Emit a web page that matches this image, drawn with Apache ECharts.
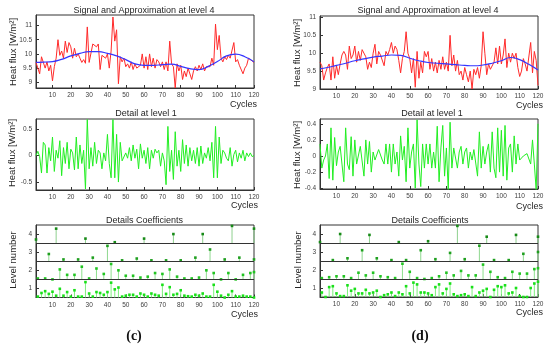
<!DOCTYPE html>
<html><head><meta charset="utf-8">
<script src="https://cdn.jsdelivr.net/npm/echarts@6/dist/echarts.min.js"></script>
<style>html,body{margin:0;padding:0;background:#fff}#c{width:550px;height:344px}</style>
</head><body><div id="c"></div>
<script>
// ---------- data ----------
const cycleTicks = [10,20,30,40,50,60,70,80,90,100,110,120];

// (c) signal and approximation
const signalC = [9.7,9.72,9.3,9.9,9.97,9.5,9.72,9.4,9.6,9.05,9.55,9.85,10.5,9.95,10.1,9.85,10.45,10.05,10.4,10.25,
9.85,10.2,9.9,10.0,9.85,9.7,9.8,9.67,10.95,9.7,9.65,10.35,10.3,10.25,10.35,9.45,9.95,10.0,9.85,10.0,
9.5,10.1,11.3,10.45,10.85,8.95,9.9,9.72,9.85,9.55,9.65,9.5,9.72,9.45,9.65,9.5,9.55,9.6,10.0,9.5,
9.9,9.45,10.0,9.55,9.85,9.5,9.8,9.72,9.55,9.72,9.45,9.72,9.4,10.45,9.65,9.55,8.8,9.65,9.4,9.6,
9.1,9.4,9.2,9.5,9.45,9.1,9.4,9.55,9.4,9.6,9.45,9.65,9.4,9.55,9.6,9.55,9.85,9.6,11.05,10.15,
10.65,9.85,9.72,9.9,9.8,9.95,9.85,9.8,10.4,9.72,9.8,9.6,9.65,9.3,9.5,9.6,9.85,9.8,9.75,9.7];
const approxX = [1,5,10,15,20,25,30,35,40,45,50,55,60,65,70,75,80,85,90,95,100,105,110,115,120];
const approxC = [9.7,9.71,9.73,9.81,9.93,10.02,10.08,10.08,10.02,9.93,9.8,9.65,9.6,9.6,9.62,9.64,9.56,9.48,9.45,9.56,9.73,9.93,9.99,9.9,9.72];

// (d) signal and approximation
const signalD = [9.75,9.65,9.25,9.45,9.6,9.7,9.25,9.9,9.3,9.65,9.4,9.7,9.95,10.05,9.95,9.55,10.2,9.85,9.95,10.2,
9.75,10.05,9.8,10.1,10.15,9.9,9.55,9.75,9.6,10.0,10.25,9.7,10.05,9.95,10.0,9.65,10.05,9.95,10.1,10.3,
10.0,10.2,10.1,9.8,9.45,9.85,10.05,10.6,10.0,9.85,9.45,9.85,9.05,10.05,9.3,9.75,9.45,10.05,9.9,10.05,
9.55,9.85,9.5,9.75,9.45,9.8,9.55,9.9,9.55,9.75,9.5,10.5,9.65,9.95,9.5,9.8,9.4,9.5,9.25,9.6,
9.4,9.2,9.5,9.0,9.55,9.4,9.6,9.3,9.65,10.6,10.0,9.4,9.7,9.55,9.6,9.75,10.15,9.7,10.2,9.7,
9.95,10.4,9.6,10.0,9.75,10.0,9.85,10.0,9.6,9.35,9.5,9.85,9.7,9.5,9.55,10.3,9.45,10.05,9.8,9.1];
const approxD = [9.56,9.6,9.66,9.72,9.79,9.84,9.89,9.92,9.95,9.94,9.86,9.79,9.74,9.72,9.7,9.68,9.66,9.65,9.67,9.72,9.79,9.88,9.82,9.69,9.53];

// detail at level 1
const detailC = [0.0,0.08,-0.02,-0.33,0.25,0.2,-0.33,0.15,-0.1,0.35,-0.3,0.1,-0.05,0.28,-0.38,0.15,-0.15,0.25,-0.25,0.12,
0.05,-0.27,0.35,-0.25,0.2,-0.15,0.1,-0.63,0.68,-0.25,0.15,-0.2,0.25,-0.15,0.1,0.05,-0.25,0.05,-0.1,0.4,
-0.15,-0.42,0.68,-0.42,0.4,-0.5,0.25,-0.1,-0.08,0.05,-0.05,0.15,-0.1,0.2,-0.05,0.12,-0.25,0.22,-0.05,0.1,
-0.15,0.15,-0.25,0.1,-0.05,0.12,0.05,0.1,-0.2,0.05,-0.1,-0.55,0.55,-0.3,0.1,-0.45,0.45,-0.2,0.1,-0.3,
0.3,-0.15,0.2,-0.2,0.15,-0.1,0.1,-0.15,0.15,-0.2,0.18,-0.15,0.05,-0.05,0.15,-0.1,0.25,-0.42,0.55,-0.42,
0.35,-0.15,0.1,0.05,-0.05,-0.1,0.15,-0.2,0.02,0.1,-0.12,0.05,-0.05,0.1,-0.1,0.05,-0.02,0.05,-0.02,0.0];
const detailD = [0.15,-0.15,-0.05,0.0,0.15,-0.28,0.35,-0.3,0.23,-0.12,0.05,0.12,-0.1,-0.32,0.35,-0.1,-0.17,0.24,-0.25,0.2,
-0.1,-0.12,0.12,0.12,-0.25,0.2,-0.1,0.18,-0.2,0.05,-0.05,-0.03,0.08,0.1,-0.05,-0.1,0.15,-0.1,0.15,-0.2,
0.15,-0.1,0.05,-0.25,0.25,-0.05,0.12,-0.32,0.35,-0.15,0.05,0.15,-0.4,0.45,-0.1,-0.38,0.15,-0.15,0.15,-0.1,
0.15,-0.15,0.05,-0.15,0.37,-0.32,0.1,0.38,-0.25,0.1,-0.42,0.42,-0.15,0.1,0.08,-0.15,0.05,0.12,-0.1,0.05,
0.1,-0.15,0.05,-0.05,0.08,0.1,-0.25,0.3,-0.15,0.12,-0.1,0.05,0.15,-0.2,0.3,-0.15,-0.27,0.35,-0.2,0.32,
-0.25,0.38,-0.3,0.1,0.15,-0.2,0.25,-0.1,0.15,-0.05,-0.05,0.0,0.02,0.03,0.02,-0.1,0.2,-0.1,-0.42,0.4];

// details coefficients: stem positions (cycles) per level
const stemX1 = [2,4,6,8,10,12,14,16,18,20,22,24,26,28,30,32,34,36,38,40,42,44,46,48,50,52,54,56,58,60,
62,64,66,68,70,72,74,76,78,80,82,84,86,88,90,92,94,96,98,100,102,104,106,108,110,112,114,116,118,120];
const stemX2 = [2,6,10,14,18,22,26,30,34,38,42,46,50,54,58,62,66,70,74,78,82,86,90,94,98,102,106,110,114,118,120];
const stemX3 = [8,16,24,32,40,48,56,64,72,80,88,96,104,112,120];
const stemX4 = [1,12,28,44,60,76,92,108,120];
// (c) plotted levels
const cL1 = [0.55,0.75,0.85,0.7,0.82,0.6,0.98,0.6,0.8,0.55,0.9,0.55,0.55,1.35,0.72,0.55,0.8,0.75,0.65,0.8,
1.32,0.95,1.05,0.55,0.6,0.65,0.65,0.55,0.72,0.65,0.55,0.72,0.65,0.6,1.2,0.7,1.07,0.65,0.7,0.9,
0.6,0.57,0.55,0.65,0.6,0.72,0.55,0.55,1.2,0.82,0.6,0.5,0.65,0.85,0.55,0.55,0.6,0.55,0.55,0.5];
const cL2 = [1.55,1.55,1.5,2.05,1.75,1.75,2.2,1.55,2.1,1.8,2.35,2.0,1.7,1.7,1.6,1.65,1.85,1.8,2.05,1.65,
1.55,1.55,1.6,2.0,1.85,1.5,1.85,1.5,1.75,1.85,1.9];
const cL3 = [2.9,2.6,2.6,2.7,3.35,2.55,2.65,2.55,2.55,2.55,2.7,3.15,2.6,2.7,2.6];
const cL4 = [3.7,4.3,3.75,3.55,3.75,4.0,4.0,4.45,4.3];
// (d) plotted levels
const dL1 = [0.75,0.5,1.05,1.1,0.7,0.55,0.55,1.15,0.85,0.95,0.7,0.7,0.9,0.7,0.75,0.85,0.5,0.6,0.65,0.75,
0.55,0.75,0.65,1.1,0.7,1.3,1.2,0.75,0.75,0.7,0.6,1.05,1.2,0.7,0.95,1.25,0.65,0.55,0.6,0.65,
0.55,1.05,0.55,0.75,0.85,0.95,0.5,0.9,1.1,1.05,1.15,0.7,0.75,1.0,0.55,0.5,0.5,1.0,1.25,1.35];
const dL2 = [1.55,1.6,1.65,1.65,1.55,1.85,1.7,1.85,1.65,1.6,1.55,2.35,1.9,1.55,1.5,1.55,1.65,1.85,1.7,1.95,
1.7,1.7,2.3,1.9,1.6,1.55,1.9,1.8,1.8,2.05,2.1];
const dL3 = [2.55,2.65,3.1,2.65,2.55,2.55,3.1,2.6,2.95,2.6,3.35,2.55,2.55,2.9,3.0];
const dL4 = [3.55,4.0,3.95,3.55,3.6,4.45,3.85,3.95,3.85];

const yTicksTopC = [9,9.5,10,10.5,11];
const yTicksTopD = [9,9.5,10,10.5,11];
const yTicksMidC = [-0.5,0,0.5];
const yTicksMidD = [-0.4,-0.2,0,0.2,0.4];
const levelTicks = [1,2,3,4];

// ---------- chart ----------
const FONT = 'Liberation Sans';
const AX = '#333';
const cycles = signalC.map((v,i)=>i+1);
const pairs = (xs, ys) => ys.map((v,i)=>[xs[i], v]);

const grids = [
  {left:36, top:15, width:218, height:73},
  {left:36, top:119, width:218, height:71},
  {left:36, top:225, width:218, height:72.5},
  {left:320, top:16, width:218, height:73},
  {left:320, top:119, width:218, height:70},
  {left:320, top:225, width:218, height:72}
].map(g=>Object.assign({show:true, borderColor:AX, borderWidth:1, backgroundColor:'transparent'}, g));

function xAx(gi){
  return {type:'value', gridIndex:gi, min:1, max:120,
    axisLine:{show:true, onZero:false, lineStyle:{color:AX}}, splitLine:{show:false},
    axisTick:{show:true, inside:true, length:3, lineStyle:{color:AX}, customValues:cycleTicks},
    axisLabel:{customValues:cycleTicks, fontSize:6.5, color:'#404040', margin:4, fontFamily:FONT}};
}
function yAx(gi, min, max, ticks){
  return {type:'value', gridIndex:gi, min:min, max:max,
    axisLine:{show:true, onZero:false, lineStyle:{color:AX}}, splitLine:{show:false},
    axisTick:{show:true, inside:true, length:3, lineStyle:{color:AX}, customValues:ticks},
    axisLabel:{customValues:ticks, fontSize:6.5, color:'#404040', margin:4, fontFamily:FONT}};
}

function stemRender(stroke, mark){
  return function(params, api){
    const x = api.value(0), y = api.value(1), b = api.value(2);
    const p0 = api.coord([x, b]), p1 = api.coord([x, y]);
    return {type:'group', children:[
      {type:'line', shape:{x1:p0[0], y1:p0[1], x2:p1[0], y2:p1[1]}, style:{stroke:stroke, lineWidth:1}},
      {type:'rect', shape:{x:p1[0]-1.3, y:p1[1]-1.3, width:2.6, height:2.6}, style:{fill:mark}}
    ]};
  };
}
function stems(gi, xs, vals, level, stroke, mark){
  return {type:'custom', xAxisIndex:gi, yAxisIndex:gi, renderItem:stemRender(stroke, mark),
    encode:{x:0, y:1}, silent:true,
    data: vals.map((v,i)=>[xs[i], v, level-0.5])};
}
function separators(gi){
  return {type:'line', xAxisIndex:gi, yAxisIndex:gi, data:[], silent:true,
    markLine:{silent:true, symbol:'none', animation:false, label:{show:false},
      lineStyle:{color:AX, type:'solid', width:1},
      data:[{yAxis:1.5},{yAxis:2.5},{yAxis:3.5}]}};
}
const lvlStyle = [
  ['#7ef07e', '#19e019'],
  ['#8ee08e', '#22c422'],
  ['#8fd88f', '#1f9f1f'],
  ['#8fd08f', '#178a17']
];

const series = [
  {type:'line', xAxisIndex:0, yAxisIndex:0, data:pairs(cycles, signalC), showSymbol:false, lineStyle:{color:'#ff2a2a', width:1}, z:2},
  {type:'line', xAxisIndex:0, yAxisIndex:0, data:pairs(approxX, approxC), smooth:true, showSymbol:false, lineStyle:{color:'#3535ff', width:1.2}, z:3},
  {type:'line', xAxisIndex:1, yAxisIndex:1, data:pairs(cycles, detailC), showSymbol:false, lineStyle:{color:'#22ee22', width:1}},
  separators(2),
  stems(2, stemX1, cL1, 1, lvlStyle[0][0], lvlStyle[0][1]),
  stems(2, stemX2, cL2, 2, lvlStyle[1][0], lvlStyle[1][1]),
  stems(2, stemX3, cL3, 3, lvlStyle[2][0], lvlStyle[2][1]),
  stems(2, stemX4, cL4, 4, lvlStyle[3][0], lvlStyle[3][1]),
  {type:'line', xAxisIndex:3, yAxisIndex:3, data:pairs(cycles, signalD), showSymbol:false, lineStyle:{color:'#ff2a2a', width:1}, z:2},
  {type:'line', xAxisIndex:3, yAxisIndex:3, data:pairs(approxX, approxD), smooth:true, showSymbol:false, lineStyle:{color:'#3535ff', width:1.2}, z:3},
  {type:'line', xAxisIndex:4, yAxisIndex:4, data:pairs(cycles, detailD), showSymbol:false, lineStyle:{color:'#22ee22', width:1}},
  separators(5),
  stems(5, stemX1, dL1, 1, lvlStyle[0][0], lvlStyle[0][1]),
  stems(5, stemX2, dL2, 2, lvlStyle[1][0], lvlStyle[1][1]),
  stems(5, stemX3, dL3, 3, lvlStyle[2][0], lvlStyle[2][1]),
  stems(5, stemX4, dL4, 4, lvlStyle[3][0], lvlStyle[3][1])
];

function txt(x, y, s, opt){
  return Object.assign({type:'text', x:x, y:y, silent:true,
    style:Object.assign({text:s, fontFamily:FONT, fontSize:9, fill:'#262626', textAlign:'center', textVerticalAlign:'middle'}, opt && opt.style || {})},
    opt && opt.el || {});
}
const graphics = [
  txt(144, 10.5, 'Signal and Approximation at level 4'),
  txt(428, 11, 'Signal and Approximation at level 4'),
  txt(146, 113.5, 'Detail at level 1'),
  txt(432, 114, 'Detail at level 1'),
  txt(144.5, 220.5, 'Details Coefficients'),
  txt(430, 220.5, 'Details Coefficients'),
  txt(257, 105, 'Cycles', {style:{textAlign:'right'}}),
  txt(543, 106, 'Cycles', {style:{textAlign:'right'}}),
  txt(258, 206, 'Cycles', {style:{textAlign:'right'}}),
  txt(543, 207, 'Cycles', {style:{textAlign:'right'}}),
  txt(258, 315, 'Cycles', {style:{textAlign:'right'}}),
  txt(543, 313, 'Cycles', {style:{textAlign:'right'}}),
  txt(13, 52, 'Heat flux [W/m\u00B2]', {style:{fontSize:9.5}, el:{rotation:Math.PI/2}}),
  txt(297, 53, 'Heat flux [W/m\u00B2]', {style:{fontSize:9.5}, el:{rotation:Math.PI/2}}),
  txt(12.5, 153, 'Heat flux [W/m\u00B2]', {style:{fontSize:9.5}, el:{rotation:Math.PI/2}}),
  txt(297, 155, 'Heat flux [W/m\u00B2]', {style:{fontSize:9.5}, el:{rotation:Math.PI/2}}),
  txt(13.5, 260, 'Level number', {style:{fontSize:9.5}, el:{rotation:Math.PI/2}}),
  txt(298, 260, 'Level number', {style:{fontSize:9.5}, el:{rotation:Math.PI/2}}),
  txt(134, 336, '(c)', {style:{fontFamily:'Liberation Serif', fontWeight:'bold', fontSize:14, fill:'#111'}}),
  txt(420, 336, '(d)', {style:{fontFamily:'Liberation Serif', fontWeight:'bold', fontSize:14, fill:'#111'}})
];

const chart = echarts.init(document.getElementById('c'), null, {renderer:'canvas'});
chart.setOption({
  animation:false,
  backgroundColor:'#fff',
  grid: grids,
  xAxis: [0,1,2,3,4,5].map(xAx),
  yAxis: [
    yAx(0, 8.8, 11.37, yTicksTopC),
    yAx(1, -0.65, 0.69, yTicksMidC),
    yAx(2, 0.5, 4.5, levelTicks),
    yAx(3, 9, 11.04, yTicksTopD),
    yAx(4, -0.41, 0.46, yTicksMidD),
    yAx(5, 0.5, 4.5, levelTicks)
  ],
  series: series,
  graphic: graphics
});
</script></body></html>
